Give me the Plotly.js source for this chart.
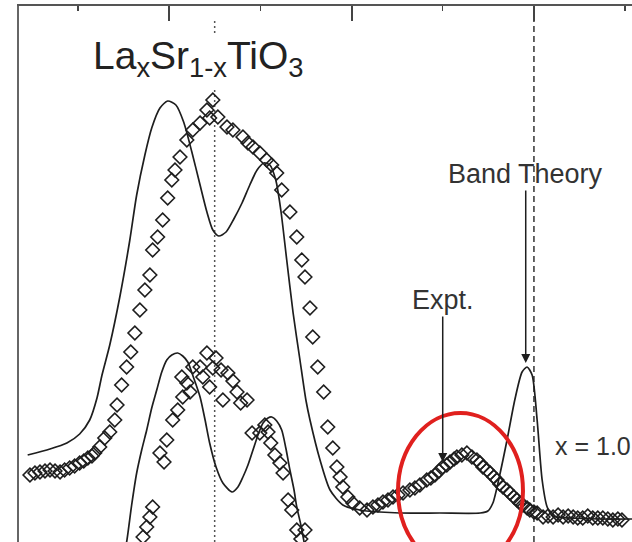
<!DOCTYPE html>
<html>
<head>
<meta charset="utf-8">
<script src="https://cdn.plot.ly/plotly-3.0.1.min.js"></script>
<style>html,body{margin:0;padding:0;background:#fff;}#chart{width:632px;height:542px;}</style>
</head>
<body>
<div id="chart"></div>
<script>
// Energy relative to E_F (eV) and intensity (arb. units)
// Upper spectrum (x = 1.0): band theory
const theoryTopE = [-11.10,-10.61,-10.24,-9.96,-9.74,-9.58,-9.47,-9.30,-9.08,-8.86,-8.71,-8.53,-8.38,-8.20,-8.03,-7.85,-7.68,-7.50,-7.32,-7.17,-7.04,-6.91,-6.75,-6.58,-6.40,-6.23,-6.07,-5.92,-5.79,-5.66,-5.55,-5.42,-5.28,-5.13,-5.00,-4.91,-4.69,-4.47,-4.19,-3.82,-3.38,-2.94,-2.06,-1.18,-1.01,-0.90,-0.75,-0.59,-0.42,-0.26,-0.15,-0.04,0.07,0.18,0.29,0.42,0.79,1.45,2.15];
const theoryTopI = [0.87,0.93,0.99,1.08,1.22,1.44,1.67,1.97,2.45,3.02,3.47,3.87,4.14,4.34,4.41,4.37,4.20,3.90,3.57,3.30,3.12,3.06,3.10,3.23,3.39,3.57,3.72,3.79,3.77,3.62,3.32,2.82,2.29,1.82,1.42,1.22,0.82,0.52,0.37,0.32,0.30,0.29,0.29,0.29,0.31,0.39,0.67,1.02,1.42,1.70,1.75,1.67,1.22,0.62,0.35,0.26,0.24,0.23,0.23];
// Upper spectrum: experiment
const exptTopE = [-11.05,-10.94,-10.83,-10.72,-10.61,-10.50,-10.39,-10.29,-10.18,-10.07,-9.96,-9.87,-9.78,-9.69,-9.63,-9.52,-9.41,-9.30,-9.19,-9.14,-9.04,-8.93,-8.84,-8.75,-8.64,-8.53,-8.42,-8.36,-8.25,-8.14,-8.03,-7.94,-7.87,-7.76,-7.61,-7.48,-7.32,-7.17,-7.11,-7.04,-6.93,-6.73,-6.60,-6.38,-6.27,-6.16,-6.01,-5.86,-5.75,-5.64,-5.53,-5.35,-5.20,-5.09,-5.02,-4.91,-4.85,-4.74,-4.61,-4.52,-4.41,-4.32,-4.25,-4.19,-4.08,-3.97,-3.82,-3.66,-3.53,-3.42,-3.31,-3.20,-3.09,-2.98,-2.87,-2.72,-2.61,-2.50,-2.35,-2.26,-2.17,-2.08,-2.00,-1.91,-1.84,-1.75,-1.69,-1.58,-1.47,-1.36,-1.25,-1.18,-1.12,-1.03,-0.96,-0.88,-0.81,-0.75,-0.68,-0.59,-0.53,-0.44,-0.37,-0.31,-0.24,-0.15,-0.09,0.00,0.07,0.20,0.31,0.42,0.53,0.64,0.75,0.86,0.96,1.07,1.18,1.29,1.40,1.51,1.62,1.73,1.84,1.93];
const exptTopI = [0.67,0.69,0.70,0.71,0.72,0.71,0.70,0.72,0.74,0.76,0.79,0.81,0.84,0.86,0.89,0.95,1.04,1.10,1.22,1.37,1.57,1.75,1.90,2.09,2.32,2.52,2.67,2.92,3.05,3.22,3.44,3.62,3.72,3.85,4.02,4.12,4.19,4.32,4.24,4.42,4.25,4.15,4.12,4.05,3.99,3.95,3.89,3.82,3.77,3.69,3.52,3.30,3.05,2.82,2.65,2.34,2.05,1.75,1.50,1.15,0.94,0.75,0.65,0.55,0.45,0.39,0.34,0.32,0.35,0.37,0.40,0.42,0.45,0.47,0.49,0.52,0.54,0.57,0.62,0.64,0.67,0.71,0.75,0.77,0.80,0.83,0.85,0.87,0.89,0.85,0.82,0.79,0.75,0.72,0.69,0.65,0.62,0.58,0.55,0.52,0.49,0.45,0.42,0.39,0.37,0.34,0.32,0.30,0.29,0.25,0.26,0.25,0.27,0.25,0.26,0.25,0.24,0.24,0.26,0.24,0.24,0.24,0.23,0.22,0.23,0.22];
// Lower spectrum: band theory
const theoryLowE = [-8.97,-8.93,-8.82,-8.71,-8.60,-8.49,-8.38,-8.27,-8.16,-8.05,-7.94,-7.81,-7.70,-7.59,-7.46,-7.32,-7.21,-7.11,-6.97,-6.82,-6.62,-6.49,-6.38,-6.27,-6.16,-6.05,-5.94,-5.83,-5.75,-5.64,-5.53,-5.44,-5.35,-5.26,-5.20,-5.11,-5.04,-5.00];
const theoryLowI = [-0.08,0.00,0.37,0.69,0.92,1.12,1.34,1.52,1.70,1.82,1.87,1.89,1.86,1.80,1.64,1.45,1.22,0.99,0.75,0.59,0.50,0.55,0.65,0.77,0.92,1.07,1.19,1.24,1.25,1.21,1.12,0.94,0.72,0.52,0.35,0.17,0.00,-0.10];
// Lower spectrum: experiment
const exptLowE = [-8.57,-8.49,-8.42,-8.36,-8.20,-8.11,-8.05,-7.92,-7.81,-7.70,-7.72,-7.61,-7.54,-7.48,-7.32,-7.26,-7.17,-7.11,-7.04,-6.97,-6.86,-6.82,-6.71,-6.60,-6.51,-6.43,-6.29,-6.18,-6.01,-5.90,-5.83,-5.77,-5.68,-5.57,-5.50,-5.39,-5.31,-5.20,-5.02,-5.11];
const exptLowI = [0.05,0.15,0.25,0.35,0.89,0.80,1.02,1.22,1.32,1.45,1.65,1.59,1.50,1.75,1.75,1.65,1.89,1.55,1.74,1.84,1.72,1.42,1.69,1.61,1.50,1.39,1.42,1.09,1.09,1.17,1.10,0.99,0.87,0.79,0.69,0.42,0.32,0.12,0.12,0.03];

const ink = '#1e1e1e';
const fontFam = '"Liberation Sans", Arial, Helvetica, sans-serif';
const lineStyle = {color: ink, width: 1.7, shape: 'spline', smoothing: 0.7};
const mk = {symbol: 'diamond-open', size: 10.5, color: ink, line: {width: 1.6, color: ink}};

const traces = [
  {x: theoryTopE, y: theoryTopI, mode: 'lines', line: lineStyle, hoverinfo: 'skip'},
  {x: theoryLowE, y: theoryLowI, mode: 'lines', line: lineStyle, hoverinfo: 'skip'},
  {x: exptTopE, y: exptTopI, mode: 'markers', marker: mk, hoverinfo: 'skip'},
  {x: exptLowE, y: exptLowI, mode: 'markers', marker: mk, hoverinfo: 'skip'}
];

const layout = {
  width: 632, height: 542,
  margin: {l: 19, r: 0, t: 6, b: 0, pad: 0},
  paper_bgcolor: '#fff', plot_bgcolor: '#fff',
  showlegend: false,
  font: {family: fontFam, color: '#2a2a2a'},
  xaxis: {
    range: [-11.29, 2.15], side: 'top', showline: true, linecolor: '#555', linewidth: 2.5,
    ticks: 'inside', ticklen: 15, tickwidth: 2, tickcolor: '#444', dtick: 4, tick0: 0,
    minor: {dtick: 2, tick0: 0, ticks: 'inside', ticklen: 5, tickwidth: 1.5, tickcolor: '#444'},
    showticklabels: false, showgrid: false, zeroline: false, fixedrange: true
  },
  yaxis: {
    range: [0, 5.36], showline: true, linecolor: '#666', linewidth: 2,
    ticks: '', showticklabels: false, showgrid: false, zeroline: false, fixedrange: true
  },
  shapes: [
    {type: 'line', xref: 'x', yref: 'y', x0: -7.0, x1: -7.0, y0: 5.09, y1: 5.24, layer: 'below', line: {color: '#555', width: 1.5, dash: '2px,3px'}},
    {type: 'line', xref: 'x', yref: 'y', x0: -7.0, x1: -7.0, y0: 0, y1: 4.55, layer: 'below', line: {color: '#555', width: 1.5, dash: '2px,3px'}},
    {type: 'line', xref: 'x', yref: 'y', x0: 0, x1: 0, y0: 0, y1: 5.36, layer: 'below', line: {color: '#333', width: 1.5, dash: '6px,4px'}},
    {type: 'circle', xref: 'x', yref: 'y', x0: -2.98, x1: -0.24, y0: -0.27, y1: 1.29, line: {color: '#e0201e', width: 4}}
  ],
  annotations: [
    {xref: 'x', yref: 'y', x: -9.72, y: 4.84, xanchor: 'left', yanchor: 'middle', showarrow: false,
     text: 'La<sub>x</sub>Sr<sub>1-x</sub>TiO<sub>3</sub>', font: {size: 39, color: '#222', family: fontFam}},
    {xref: 'x', yref: 'y', x: -2.00, y: 0.80, ax: 0, ay: -162, showarrow: true, arrowhead: 2, arrowsize: 1.2, arrowwidth: 1.5, arrowcolor: ink,
     text: 'Expt.', font: {size: 27, color: '#333', family: fontFam}},
    {xref: 'x', yref: 'y', x: -0.18, y: 1.79, ax: 0, ay: -189, showarrow: true, arrowhead: 2, arrowsize: 1.2, arrowwidth: 1.5, arrowcolor: ink,
     text: 'Band Theory', font: {size: 27, color: '#333', family: fontFam}},
    {xref: 'x', yref: 'y', x: 0.42, y: 0.96, xanchor: 'left', yanchor: 'middle', showarrow: false,
     text: 'x = 1.0', font: {size: 25, color: '#333', family: fontFam}}
  ]
};

Plotly.newPlot('chart', traces, layout, {staticPlot: true, displayModeBar: false});
</script>
</body>
</html>
